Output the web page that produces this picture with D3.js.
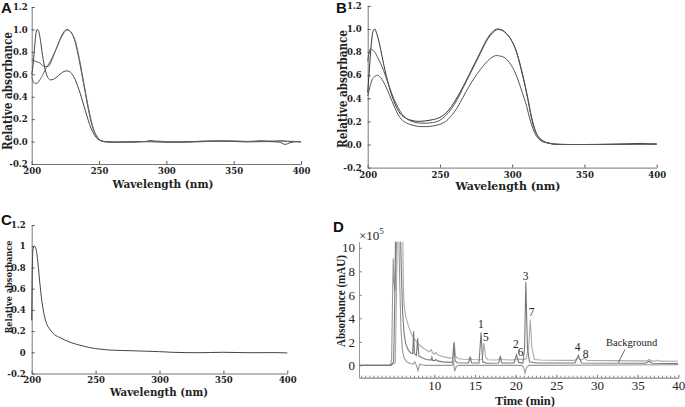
<!DOCTYPE html>
<html><head><meta charset="utf-8">
<script src="https://cdn.jsdelivr.net/npm/d3@7"></script>
<style>
body{margin:0;background:#fff;}
svg{display:block;}
.tk text{font-family:"DejaVu Serif",serif;font-weight:bold;}
</style></head>
<body><svg id="c" width="685" height="407"></svg>
<script>
// ---------- DATA ----------
const wlTicks = [200, 250, 300, 350, 400];
const absTicks = [-0.2, 0, 0.2, 0.4, 0.6, 0.8, 1.0, 1.2];
const absTickLabelsAB = ["-0.2", "0.0", "0.2", "0.4", "0.6", "0.8", "1.0", "1.2"];
const absTickLabelsC = ["-0.2", "0", "0.2", "0.4", "0.6", "0.8", "1", "1.2"];

const specA_peak226a = [[200,0.73],[202,0.72],[204,0.71],[206,0.70],[208,0.68],[210,0.67],[212,0.67],[214,0.70],[216,0.76],[218,0.82],[220,0.88],[222,0.94],[224,0.98],[226,1.0],[228,0.99],[230,0.96],[232,0.90],[234,0.80],[236,0.68],[238,0.55],[240,0.42],[242,0.29],[244,0.18],[246,0.10],[248,0.05],[250,0.02],[252,0.005],[255,0.0],[260,-0.005],[270,-0.005],[285,0.0],[288,0.01],[292,0.0],[310,-0.005],[330,0.005],[345,0.005],[360,0.0],[370,0.008],[380,0.0],[385,0.008],[390,0.0],[400,-0.003]];
const specA_peak204 = [[200,0.6],[201,0.68],[202,0.82],[203,0.95],[204,1.0],[205,0.99],[206,0.94],[207,0.86],[208,0.77],[209,0.7],[210,0.64],[211,0.6],[212,0.57],[214,0.55],[216,0.555],[218,0.57],[220,0.59],[222,0.61],[224,0.625],[226,0.63],[228,0.625],[230,0.6],[232,0.56],[234,0.5],[236,0.43],[238,0.35],[240,0.27],[242,0.19],[244,0.12],[246,0.07],[248,0.035],[250,0.015],[252,0.005],[255,0.0],[265,-0.005],[280,0.0],[300,-0.005],[320,0.0],[340,0.005],[360,-0.003],[375,0.0],[384,-0.005],[388,-0.025],[392,-0.01],[396,0.0],[400,-0.003]];
const specA_peak226b = [[200,0.58],[201,0.54],[202,0.52],[204,0.52],[206,0.55],[208,0.59],[210,0.64],[212,0.68],[214,0.72],[216,0.77],[218,0.82],[220,0.88],[222,0.93],[224,0.97],[226,0.995],[228,0.99],[230,0.96],[232,0.91],[234,0.82],[236,0.70],[238,0.57],[240,0.44],[242,0.31],[244,0.2],[246,0.11],[248,0.055],[250,0.02],[252,0.005],[256,-0.005],[275,-0.005],[290,0.005],[300,0.0],[315,-0.005],[330,0.0],[350,0.005],[365,0.0],[380,0.005],[400,0.0]];

const specB_high = [[200,0.45],[201,0.62],[202,0.8],[203,0.93],[204,0.99],[205,1.0],[206,0.97],[208,0.88],[210,0.76],[212,0.64],[214,0.54],[216,0.45],[218,0.38],[220,0.32],[223,0.26],[226,0.23],[230,0.21],[235,0.2],[240,0.205],[245,0.215],[250,0.235],[254,0.27],[258,0.33],[262,0.41],[266,0.5],[270,0.6],[274,0.7],[278,0.8],[282,0.9],[286,0.97],[290,1.0],[293,0.99],[296,0.96],[300,0.89],[303,0.8],[306,0.66],[309,0.5],[311,0.38],[313,0.25],[315,0.15],[317,0.09],[320,0.04],[323,0.02],[326,0.01],[330,0.005],[340,0.0],[360,0.0],[380,0.005],[390,0.01],[395,0.005],[400,0.005]];
const specB_mid = [[200,0.72],[201,0.8],[202,0.83],[203,0.82],[205,0.8],[207,0.75],[209,0.7],[211,0.64],[213,0.57],[215,0.5],[217,0.43],[219,0.37],[221,0.32],[224,0.26],[228,0.215],[232,0.195],[236,0.185],[240,0.185],[245,0.19],[250,0.21],[254,0.25],[258,0.31],[262,0.39],[266,0.49],[270,0.59],[274,0.69],[278,0.79],[282,0.89],[286,0.96],[290,0.995],[293,0.99],[296,0.96],[300,0.89],[303,0.8],[306,0.67],[309,0.51],[311,0.39],[313,0.26],[315,0.16],[317,0.09],[320,0.045],[323,0.02],[326,0.01],[330,0.0],[350,0.0],[370,0.003],[390,0.005],[400,0.003]];
const specB_low = [[200,0.42],[201,0.47],[202,0.52],[203,0.56],[205,0.59],[207,0.6],[209,0.58],[211,0.54],[213,0.49],[215,0.43],[217,0.37],[219,0.31],[221,0.26],[224,0.21],[228,0.18],[232,0.165],[236,0.155],[240,0.155],[245,0.16],[250,0.175],[254,0.2],[258,0.25],[262,0.32],[266,0.41],[270,0.5],[274,0.58],[278,0.65],[282,0.71],[286,0.755],[289,0.77],[292,0.765],[295,0.75],[298,0.71],[301,0.65],[304,0.56],[307,0.45],[310,0.33],[312,0.23],[314,0.15],[316,0.09],[319,0.04],[322,0.02],[326,0.01],[330,0.0],[360,0.0],[400,0.003]];

const specC = [[200,0.3],[200.5,0.8],[201,0.97],[202,1.0],[203,0.99],[204,0.93],[205,0.83],[206,0.7],[207,0.58],[208,0.48],[209,0.4],[210,0.34],[212,0.26],[214,0.22],[216,0.19],[218,0.165],[222,0.14],[226,0.115],[230,0.095],[235,0.075],[240,0.06],[245,0.045],[250,0.035],[255,0.028],[260,0.022],[270,0.017],[280,0.014],[290,0.01],[300,0.006],[310,0.0],[330,-0.004],[350,0.0],[370,-0.004],[390,-0.003],[400,-0.006]];

const timeTicks = [10, 15, 20, 25, 30, 35, 40];
const timeMinorTicks = d3.range(1, 40.01, 0.5);
const mauTicks = [0, 2, 4, 6, 8, 10];

const chromSampleA = [[0.75,0],[4.6,0],[5.2,0.2],[5.35,6],[5.45,12],[6.1,12],[6.2,6.5],[6.3,5.0],[6.5,4.1],[6.8,3.4],[7.1,2.8],[7.4,2.4],[7.7,2.1],[8.0,1.85],[8.3,1.65],[8.6,1.5],[9.0,1.3],[9.4,1.15],[9.6,1.35],[9.8,1.05],[10.0,0.95],[10.2,1.1],[10.4,0.9],[11,0.75],[11.5,0.68],[12,0.62],[12.3,0.65],[12.45,2.0],[12.6,0.8],[12.9,0.58],[13.5,0.52],[14.2,0.5],[14.4,0.75],[14.6,0.5],[15.5,0.48],[15.9,0.5],[16.1,1.9],[16.3,0.7],[16.6,0.48],[17.5,0.45],[18,0.5],[18.1,0.75],[18.3,0.5],[19.5,0.45],[20.2,0.5],[20.5,0.55],[20.8,0.5],[21.3,0.55],[21.6,1.5],[21.8,3.9],[22.0,1.5],[22.3,0.5],[23,0.45],[26,0.42],[27.2,0.42],[27.7,0.6],[28.0,0.45],[28.5,0.6],[28.8,0.42],[32,0.4],[35,0.38],[36.1,0.38],[36.4,0.5],[36.7,0.38],[37.2,0.36],[37.4,0.45],[37.6,0.36],[40,0.35]];
const chromSampleB = [[0.75,0],[4.65,0],[5.0,0.3],[5.15,6],[5.25,12],[5.8,12],[5.95,8],[6.1,4.5],[6.3,2.6],[6.5,1.8],[6.8,1.3],[7.1,1.05],[7.35,1.0],[7.45,2.9],[7.55,1.0],[7.8,0.85],[7.95,2.3],[8.1,0.8],[8.5,0.65],[9.0,0.5],[9.6,0.45],[9.7,0.7],[9.8,0.42],[10,0.4],[10.2,0.5],[10.4,0.38],[11,0.3],[12,0.25],[12.25,0.3],[12.4,1.9],[12.55,0.4],[12.8,0.22],[14.2,0.2],[14.4,0.6],[14.6,0.2],[15.5,0.2],[15.75,2.8],[15.95,0.3],[16.4,0.18],[17.9,0.2],[18.1,0.7],[18.3,0.2],[19.8,0.2],[20.1,0.9],[20.35,0.25],[20.9,0.2],[21.1,1.5],[21.25,7.1],[21.45,1.5],[21.7,0.3],[22.5,0.2],[27.3,0.2],[27.7,0.85],[28.1,0.2],[36,0.18],[36.4,0.35],[36.8,0.18],[40,0.15]];
const chromBackground = [[0.75,0],[4.6,0],[4.75,0.5],[4.85,5],[4.95,9.1],[5.05,7],[5.15,6.3],[5.3,9],[5.4,12],[5.6,12],[5.75,7],[5.9,3],[6.1,1.2],[6.3,0.6],[6.6,0.3],[7.0,0.15],[7.4,0.1],[7.6,0.3],[7.8,0.0],[8.0,-0.45],[8.2,0.1],[8.5,0.05],[9,0],[10,0],[12.2,0.0],[12.35,0.4],[12.5,-0.5],[12.7,-0.1],[13,0],[20.8,0.0],[21.0,-0.2],[21.15,-0.65],[21.35,-0.2],[21.6,0],[40,0.05]];

const peakLabels = ["1","5","2","6","3","7","4","8"];
const peakLabelTimes = [15.74, 16.35, 20.04, 20.62, 21.23, 21.97, 27.63, 28.61];
const peakLabelValues = [3.17, 2.04, 1.45, 0.82, 7.26, 4.17, 1.24, 0.62];
const bgLabel = {text: "Background", t: 34.27, v: 1.65};
const bgArrow = {t1: 33.45, v1: 1.36, t2: 32.62, v2: 0.22};

// ---------- DRAW ----------
const svg = d3.select("#c");

function specPanel(o) {
  const x = d3.scaleLinear().domain([200, 400]).range(o.xr);
  const y = d3.scaleLinear().domain([-0.2, 1.2]).range(o.yr);
  const g = svg.append("g");
  const xa = g.append("g").attr("class", "tk").attr("transform", `translate(0,${o.yr[0]})`)
    .call(d3.axisBottom(x).tickValues(wlTicks).tickSizeInner(-3).tickSizeOuter(0).tickPadding(o.xpad).tickFormat(d3.format("d")));
  const ya = g.append("g").attr("class", "tk").attr("transform", `translate(${o.xr[0]},0)`)
    .call(d3.axisLeft(y).tickValues(absTicks).tickSizeInner(-3).tickSizeOuter(0).tickPadding(o.ypad).tickFormat((d, i) => o.labels[i]));
  [xa, ya].forEach(a => {
    a.selectAll("path.domain").attr("stroke", "#777").attr("stroke-width", 1);
    a.selectAll("line").attr("stroke", "#555");
    a.selectAll("text").attr("font-size", o.fs).attr("fill", "#222");
  });
  const line = d3.line().x(d => x(d[0])).y(d => y(d[1])).curve(d3.curveMonotoneX);
  o.series.forEach((s, i) => {
    g.append("path").attr("d", line(s)).attr("fill", "none")
      .attr("stroke", o.colors[i]).attr("stroke-width", 1);
  });
  g.append("text").text("Wavelength (nm)")
    .attr("x", o.tx).attr("y", o.titleY).attr("text-anchor", "middle")
    .attr("textLength", o.tlen).attr("lengthAdjust", "spacingAndGlyphs")
    .attr("font-family", "DejaVu Serif").attr("font-weight", "bold").attr("font-size", o.tfs).attr("fill", "#222");
  g.append("text").text(o.ytitle)
    .attr("transform", `translate(${o.ytx},${o.yty}) rotate(-90)`).attr("text-anchor", "middle")
    .attr("textLength", o.ytlen).attr("lengthAdjust", "spacingAndGlyphs")
    .attr("font-family", "DejaVu Serif").attr("font-weight", "bold").attr("font-size", o.ytfs).attr("fill", "#222");
  g.append("text").text(o.letter).attr("x", o.lx).attr("y", o.ly)
    .attr("font-family", "Liberation Sans, Arial").attr("font-weight", "bold").attr("font-size", 15).attr("fill", "#111");
}

specPanel({xr: [31.7, 301], yr: [164, 7], xpad: 4, ypad: 4, labels: absTickLabelsAB, fs: 8.5,
  series: [specA_peak226a, specA_peak204, specA_peak226b], colors: ["#555", "#444", "#666"],
  tx: 163, titleY: 188, tfs: 11.5, tlen: 101,
  ytitle: "Relative absorbance", ytx: 12, yty: 91, ytfs: 12, ytlen: 118, letter: "A", lx: 1, ly: 13});
specPanel({xr: [367.7, 656.7], yr: [167.6, 5.9], xpad: 4, ypad: 6, labels: absTickLabelsAB, fs: 8.5,
  series: [specB_high, specB_mid, specB_low], colors: ["#333", "#555", "#555"],
  tx: 508, titleY: 190, tfs: 11.5, tlen: 105,
  ytitle: "Relative absorbance", ytx: 347, yty: 89, ytfs: 12, ytlen: 118, letter: "B", lx: 336, ly: 13});
specPanel({xr: [31.7, 287.3], yr: [373.5, 225], xpad: 3, ypad: 6, labels: absTickLabelsC, fs: 8.5,
  series: [specC], colors: ["#444"],
  tx: 159, titleY: 396, tfs: 11.5, tlen: 98,
  ytitle: "Relative absorbance", ytx: 11.5, yty: 287, ytfs: 10, ytlen: 93, letter: "C", lx: 1, ly: 225});

// Panel D
(function () {
  const x = d3.scaleLinear().domain([0.74, 40]).range([359, 678.3]);
  const y = d3.scaleLinear().domain([-1.05, 10.52]).range([377.7, 241.7]);
  const g = svg.append("g");
  const ser = "Liberation Serif, Times New Roman, serif";
  g.append("clipPath").attr("id", "clipD").append("rect")
    .attr("x", x.range()[0]).attr("y", y.range()[1]).attr("width", x.range()[1] - x.range()[0])
    .attr("height", y.range()[0] - y.range()[1]);
  const xm = g.append("g").attr("transform", `translate(0,${y.range()[0]})`)
    .call(d3.axisBottom(x).tickValues(timeMinorTicks).tickSizeInner(-2).tickSizeOuter(0).tickFormat(""));
  const xa = g.append("g").attr("transform", `translate(0,${y.range()[0]})`)
    .call(d3.axisBottom(x).tickValues(timeTicks).tickSizeInner(-3).tickSizeOuter(0).tickPadding(3));
  const ya = g.append("g").attr("transform", `translate(${x.range()[0]},0)`)
    .call(d3.axisLeft(y).tickValues(mauTicks).tickSizeInner(-3).tickSizeOuter(0).tickPadding(4));
  [xm, xa, ya].forEach(a => {
    a.selectAll("path.domain").attr("stroke", "#999").attr("stroke-width", 1);
    a.selectAll("line").attr("stroke", "#888");
    a.selectAll("text").attr("font-family", ser).attr("font-size", 13).attr("fill", "#222");
  });
  const line = d3.line().x(d => x(d[0])).y(d => y(d[1]));
  const traces = [chromSampleA, chromBackground, chromSampleB];
  const cols = ["#aaa", "#999", "#777"];
  traces.forEach((s, i) => {
    g.append("path").attr("d", line(s)).attr("fill", "none").attr("clip-path", "url(#clipD)")
      .attr("stroke", cols[i]).attr("stroke-width", 1.1);
  });
  peakLabels.forEach((t, i) => {
    g.append("text").text(t).attr("x", x(peakLabelTimes[i])).attr("y", y(peakLabelValues[i]))
      .attr("text-anchor", "middle").attr("font-family", ser).attr("font-size", 11.5).attr("fill", "#222");
  });
  g.append("text").text(bgLabel.text).attr("x", x(bgLabel.t)).attr("y", y(bgLabel.v))
    .attr("text-anchor", "middle").attr("font-family", ser).attr("font-size", 10.5).attr("fill", "#222");
  g.append("line").attr("x1", x(bgArrow.t1)).attr("y1", y(bgArrow.v1)).attr("x2", x(bgArrow.t2)).attr("y2", y(bgArrow.v2))
    .attr("stroke", "#444").attr("stroke-width", 0.8);
  g.append("text").text("Time (min)").attr("x", 525).attr("y", 405)
    .attr("text-anchor", "middle").attr("font-family", ser).attr("font-weight", "bold").attr("font-size", 12.5).attr("fill", "#222");
  g.append("text").text("Absorbance (mAU)").attr("transform", `translate(345,301) rotate(-90)`)
    .attr("text-anchor", "middle").attr("textLength", 92).attr("lengthAdjust", "spacingAndGlyphs")
    .attr("font-family", ser).attr("font-weight", "bold").attr("font-size", 12).attr("fill", "#222");
  const ex = g.append("text").attr("x", 359).attr("y", 240).attr("font-family", ser).attr("font-size", 13).attr("fill", "#222");
  ex.append("tspan").text("×10");
  ex.append("tspan").text("5").attr("font-size", 9).attr("dy", -6);
  g.append("text").text("D").attr("x", 333).attr("y", 232)
    .attr("font-family", "Liberation Sans, Arial").attr("font-weight", "bold").attr("font-size", 15).attr("fill", "#111");
})();
</script></body></html>
